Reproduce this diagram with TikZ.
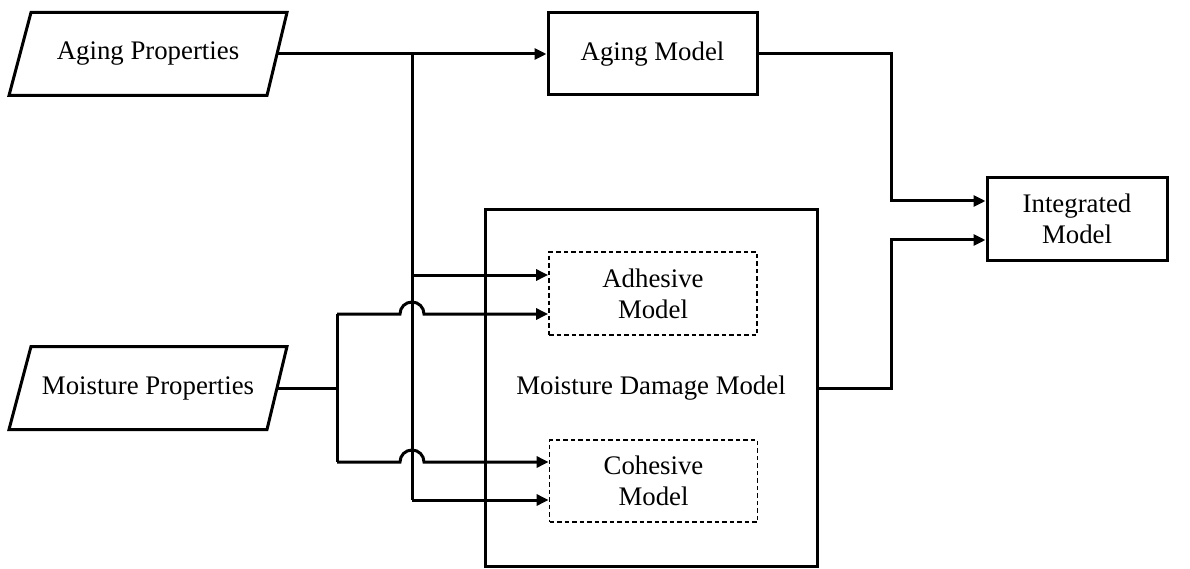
\documentclass[tikz,border=0pt]{standalone}
\usepackage{fontspec}
\setmainfont{Liberation Serif}
\usetikzlibrary{arrows.meta,calc}
\tikzset{
  lbl/.style={font=\fontsize{26.8}{31}\selectfont, align=center, inner sep=0pt},
  solidbox/.style={lbl, draw, line width=3pt, rectangle},
  dashbox/.style={lbl, draw, line width=1.8pt, dash pattern=on 4.5pt off 3pt, rectangle},
  paratext/.style={lbl, minimum width=278pt, minimum height=83pt},
  paraline/.style={line width=3pt, line join=miter},
  wire/.style={line width=3pt},
  arr/.style={wire, -{Triangle[length=12pt,width=11pt]}}
}
\begin{document}
\begin{tikzpicture}[x=1pt,y=1pt]
\useasboundingbox (0,0) rectangle (1190,-569);
% nodes
\node[paratext] (ap) at (148,-54) {Aging Properties};
\node[paratext] (mp) at (148,-388) {Moisture Properties};
\draw[paraline] ($(ap.center)+(-139,-41.5)$) -- ($(ap.center)+(119,-41.5)$) -- ($(ap.center)+(139,41.5)$) -- ($(ap.center)+(-117,41.5)$) -- cycle;
\draw[paraline] ($(mp.center)+(-139,-41.5)$) -- ($(mp.center)+(119,-41.5)$) -- ($(mp.center)+(139,41.5)$) -- ($(mp.center)+(-117,41.5)$) -- cycle;
\node[solidbox, minimum width=209pt, minimum height=82pt] (am) at (652.5,-54) {Aging Model};
\node[solidbox, minimum width=332pt, minimum height=356pt] (mdm) at (651,-388) {Moisture Damage Model};
\node[dashbox, minimum width=208pt, minimum height=83pt] (adh) at (653,-293.5) {Adhesive\\Model};
\node[dashbox, minimum width=208pt, minimum height=82pt] (coh) at (653.5,-481) {Cohesive\\Model};
\node[solidbox, minimum width=180pt, minimum height=82pt] (int) at (1077,-219) {Integrated\\Model};
% junction coordinates
\coordinate (apout) at ($(ap.center)+(129,0)$);
\coordinate (mpout) at ($(mp.center)+(129,0)$);
\coordinate (ja) at (412,-54);
\coordinate (jm) at (337,-388);
\coordinate (xr) at (891,0);
% aging properties to aging model
\draw[arr] (apout) -- (am.west);
% aging branch down
\draw[wire] (ja) -- (412,-500);
\draw[arr] (ja |- 0,-275) -- (adh.west |- 0,-275);
\draw[arr] (ja |- 0,-500) -- (coh.west |- 0,-500);
% moisture properties
\draw[wire] (mpout) -- (jm);
\draw[wire] (337,-314) -- (337,-462);
\draw[arr] (337,-314) -- (400,-314) arc[start angle=180,end angle=0,radius=12pt] -- (adh.west |- 0,-314);
\draw[arr] (337,-462) -- (400,-462) arc[start angle=180,end angle=0,radius=12pt] -- (coh.west |- 0,-462);
% outputs to integrated model
\draw[arr] (am.east) -- (am.east -| xr) |- (int.west |- 0,-201);
\draw[arr] (mdm.east) -- (mdm.east -| xr) |- (int.west |- 0,-240);
\end{tikzpicture}
\end{document}
